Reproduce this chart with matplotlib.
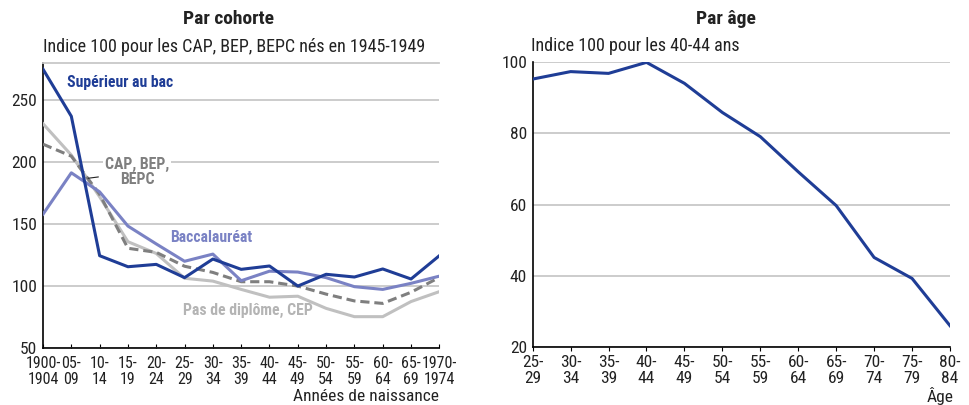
import numpy as np
import matplotlib
matplotlib.use("Agg")
import matplotlib.pyplot as plt

plt.rcParams['font.family'] = ['Roboto Condensed', 'DejaVu Sans']

# --- data, left panel (par cohorte) ---
cohortes = ["1900-\n1904", "05-\n09", "10-\n14", "15-\n19", "20-\n24", "25-\n29", "30-\n34",
            "35-\n39", "40-\n44", "45-\n49", "50-\n54", "55-\n59", "60-\n64", "65-\n69", "1970-\n1974"]
superieur = [275, 237, 124.5, 115.6, 117.5, 106.8, 121.8, 113.5, 116.2, 100, 109.5, 107.3, 113.8, 105.7, 124.5]
bac = [158, 191.4, 176, 148.4, 134, 120, 125.8, 104.3, 112, 111.3, 106.8, 99.5, 97.3, 102.2, 108]
cap_bep = [214.5, 204.8, 174, 130.5, 127.2, 116, 111, 103.5, 103.5, 100, 93.5, 88, 86, 95, 107]
sans_diplome = [231, 205.7, 172, 135.8, 126.3, 106.3, 104, 97.3, 91, 91.8, 82, 75.3, 75.3, 87.5, 95.5]

# --- data, right panel (par age) ---
ages = ["25-\n29", "30-\n34", "35-\n39", "40-\n44", "45-\n49", "50-\n54", "55-\n59",
        "60-\n64", "65-\n69", "70-\n74", "75-\n79", "80-\n84"]
indice_age = [95.3, 97.4, 96.9, 100, 94.1, 85.9, 79.1, 69.2, 59.7, 45.1, 39.2, 25.9]

dark_blue = "#1f3d96"
bac_col = "#7a82c4"
light_gray = "#c0c0c0"
dash_gray = "#7f7f7f"
grid_col = "#c8c8c8"
txt = "#222222"

fig = plt.figure(figsize=(9.69, 4.05), dpi=100)
ax1 = fig.add_axes([0.0444, 0.1407, 0.409, 0.7037])
ax2 = fig.add_axes([0.5497, 0.144, 0.4307, 0.702])

# left panel
x1 = np.arange(len(cohortes))
ax1.plot(x1, sans_diplome, color=light_gray, lw=2.2, zorder=3)
ax1.plot(x1, cap_bep, color=dash_gray, lw=2.2, ls=(0, (3, 1.6)), zorder=4)
ax1.plot(x1, bac, color=bac_col, lw=2.2, zorder=5)
ax1.plot(x1, superieur, color=dark_blue, lw=2.2, zorder=6)

ax1.set_xlim(0, len(cohortes) - 1)
ax1.set_ylim(50, 280)
ax1.set_yticks([50, 100, 150, 200, 250])
ax1.set_xticks(x1)
ax1.set_xticklabels(cohortes, fontsize=11.5, color=txt, linespacing=1.05)
ax1.tick_params(axis='y', length=0, labelsize=12.5, labelcolor=txt, pad=4)
ax1.tick_params(axis='x', direction='in', length=3, pad=6)
ax1.grid(axis='y', color=grid_col, lw=1.3)
ax1.set_axisbelow(True)
ax1.spines['right'].set_visible(False)
ax1.spines['top'].set_color(grid_col)
ax1.spines['top'].set_linewidth(1.3)
ax1.spines['left'].set_linewidth(1.2)
ax1.spines['bottom'].set_linewidth(1.2)

ax1.text(0.86, 264, "Supérieur au bac", color=dark_blue, fontsize=11.3, fontweight='bold', va='center')
ax1.annotate("CAP, BEP,\nBEPC", xy=(1.59, 187), xytext=(3.32, 192), color=dash_gray,
             fontsize=11.3, fontweight='bold', ha='center', va='center', linespacing=0.95,
             bbox=dict(boxstyle='square,pad=0.15', fc='white', ec='none'),
             arrowprops=dict(arrowstyle='-', color=txt, lw=0.8, shrinkA=3, shrinkB=0), zorder=7)
ax1.text(4.49, 139, "Baccalauréat", color=bac_col, fontsize=11.3, fontweight='bold', va='center')
ax1.text(4.95, 80, "Pas de diplôme, CEP", color="#b4b4b4", fontsize=11.3, fontweight='bold', va='center')

# right panel
x2 = np.arange(len(ages))
ax2.plot(x2, indice_age, color=dark_blue, lw=2.2, zorder=4)
ax2.set_xlim(0, len(ages) - 1)
ax2.set_ylim(20, 100)
ax2.set_yticks([20, 40, 60, 80, 100])
ax2.set_xticks(x2)
ax2.set_xticklabels(ages, fontsize=12.5, color=txt, linespacing=1.05)
ax2.tick_params(axis='y', length=0, labelsize=12.5, labelcolor=txt, pad=4)
ax2.tick_params(axis='x', direction='out', length=3, pad=3)
ax2.grid(axis='y', color=grid_col, lw=1.3)
ax2.set_axisbelow(True)
for s in ['right', 'top']:
    ax2.spines[s].set_visible(False)
ax2.spines['left'].set_linewidth(1.2)
ax2.spines['bottom'].set_linewidth(1.2)

# titles and notes
fig.text(0.236, 0.953, "Par cohorte", ha='center', va='center', fontsize=14, fontweight='bold', color=txt)
fig.text(0.749, 0.953, "Par âge", ha='center', va='center', fontsize=14, fontweight='bold', color=txt)
fig.text(0.0444, 0.885, "Indice 100 pour les CAP, BEP, BEPC nés en 1945-1949", ha='left', va='center',
         fontsize=13, color=txt)
fig.text(0.5476, 0.887, "Indice 100 pour les 40-44 ans", ha='left', va='center', fontsize=13, color=txt)
fig.text(0.453, 0.02, "Années de naissance", ha='right', va='center', fontsize=12.5, color=txt)
fig.text(0.984, 0.022, "Âge", ha='right', va='center', fontsize=12.5, color=txt)

fig.savefig("out.png", dpi=100)
